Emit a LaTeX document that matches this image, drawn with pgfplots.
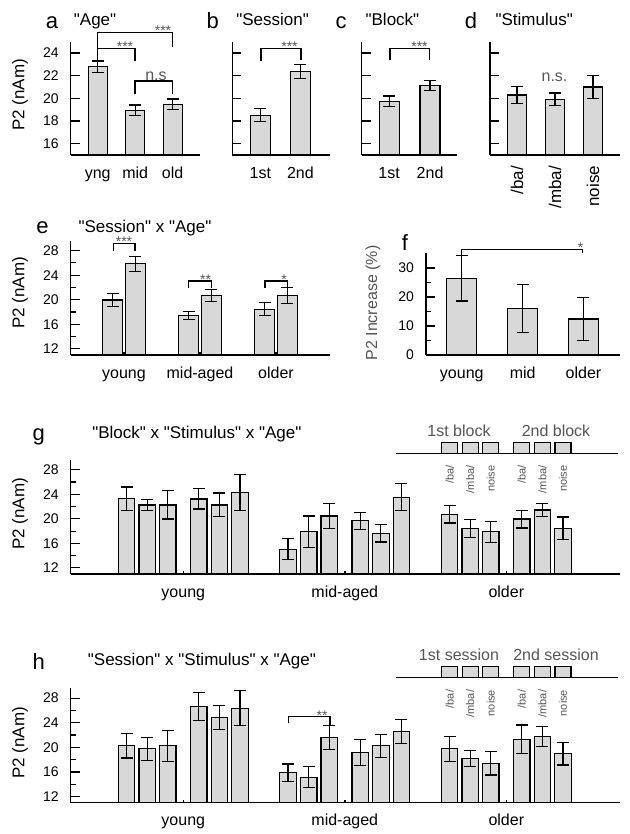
\documentclass[border=0pt]{standalone}
\usepackage{pgfplots}
\pgfplotsset{compat=1.18}
\usepackage{pgfplotstable}
\usepackage{fontspec}
\setmainfont{Liberation Sans}[Ligatures=TeXOff]
\definecolor{barfill}{RGB}{216,216,216}
\definecolor{anno}{RGB}{85,85,85}
\newcommand{\fs}[1]{\fontsize{#1}{#1}\selectfont}

\pgfplotstableread{
x y e
0 22.8 0.5
1 18.95 0.47
2 19.47 0.47
}\tabA
\pgfplotstableread{
x y e
0 18.5 0.57
1 22.38 0.63
}\tabB
\pgfplotstableread{
x y e
0 19.73 0.47
1 21.15 0.43
}\tabC
\pgfplotstableread{
x y e
0 20.29 0.77
1 19.91 0.56
2 21.0 1.03
}\tabD
\pgfplotstableread{
x y e
-0.148 19.95 1.1
0.148 25.84 1.2
0.852 17.42 0.6
1.148 20.68 0.95
1.852 18.45 1.05
2.148 20.68 1.35
}\tabE
\pgfplotstableread{
x y e
0 26.4 7.8
1 16.1 8.3
2 12.4 7.5
}\tabF
\pgfplotstableread{
x y e
-0.351 23.3 1.9
-0.2235 22.27 0.9
-0.096 22.27 2.3
0.096 23.25 1.65
0.2235 22.27 1.95
0.351 24.28 2.9
0.649 15.06 1.75
0.7765 17.9 2.55
0.904 20.46 2.0
1.096 19.7 1.4
1.2235 17.63 1.4
1.351 23.53 2.2
1.649 20.73 1.4
1.7765 18.44 1.45
1.904 17.9 1.7
2.096 19.97 1.45
2.2235 21.45 1.05
2.351 18.44 1.85
}\tabG
\pgfplotstableread{
x y e
-0.351 20.24 1.97
-0.2235 19.75 1.9
-0.096 20.24 2.5
0.096 26.64 2.3
0.2235 24.85 2.0
0.351 26.37 2.85
0.649 15.9 1.4
0.7765 15.15 1.7
0.904 21.6 2.0
1.096 19.21 2.1
1.2235 20.24 1.9
1.351 22.57 1.9
1.649 19.75 2.0
1.7765 18.24 1.3
1.904 17.42 1.9
2.096 21.33 2.3
2.2235 21.75 1.6
2.351 18.94 1.8
}\tabH

\pgfplotsset{
  panel/.style={
    scale only axis, anchor=south west,
    axis lines=left,
    axis line style={line width=1.2pt,-},
    tick style={black, line width=1.2pt},
    tick align=inside,
    major tick length=9pt, minor tick length=5pt,
    /pgf/number format/assume math mode=true,
    yticklabel style={font=\fs{14}, xshift=-8.5pt},
    xticklabel style={font=\fs{16}, text height=12pt, text depth=3.5pt, yshift=-7.5pt},
    xtick style={draw=none},
  },
  bars/.style={ybar, bar width=#1, fill=barfill, draw=black, line width=1.2pt,
    error bars/y dir=both, error bars/y explicit,
    error bars/error bar style={line width=1.2pt, black},
    error bars/error mark options={rotate=90, mark size=6pt, line width=1.2pt, black}},
}

\begin{document}
\begin{tikzpicture}
\useasboundingbox (0,0) rectangle (629pt,-834pt);

% ---------- a ----------
\begin{axis}[panel, at={(70.7pt,-155pt)}, width=129.3pt, height=113.3pt,
  xmin=-0.72, xmax=2.73, ymin=15, ymax=25,
  ytick={16,18,20,22,24}, xtick={0,1,2}, xticklabels={yng,mid,old}]
\addplot[bars=19pt] table[x=x,y=y,y error=e] {\tabA};
\end{axis}
% ---------- b ----------
\begin{axis}[panel, at={(232.3pt,-155pt)}, width=97.7pt, height=113.3pt,
  xmin=-0.7, xmax=1.74, ymin=15, ymax=25,
  ytick={16,18,20,22,24}, yticklabels={}, xtick={0,1}, xticklabels={1st,2nd}]
\addplot[bars=20pt] table[x=x,y=y,y error=e] {\tabB};
\end{axis}
% ---------- c ----------
\begin{axis}[panel, at={(361.7pt,-155pt)}, width=95pt, height=113.3pt,
  xmin=-0.67, xmax=1.65, ymin=15, ymax=25,
  ytick={16,18,20,22,24}, yticklabels={}, xtick={0,1}, xticklabels={1st,2nd}]
\addplot[bars=20pt] table[x=x,y=y,y error=e] {\tabC};
\end{axis}
% ---------- d ----------
\begin{axis}[panel, at={(490pt,-155pt)}, width=130pt, height=113.3pt,
  xmin=-0.71, xmax=2.71, ymin=15, ymax=25,
  ytick={16,18,20,22,24}, yticklabels={}, xtick={0,1,2}, xticklabels={/ba/,/mba/,noise},
  xticklabel style={font=\fs{17}, text height=, text depth=, yshift=0pt, rotate=90, anchor=east}]
\addplot[bars=19.3pt] table[x=x,y=y,y error=e] {\tabD};
\end{axis}
% ---------- e ----------
\begin{axis}[panel, at={(70.7pt,-355pt)}, width=259.3pt, height=114.3pt,
  xmin=-0.701, xmax=2.711, ymin=11, ymax=29.6,
  ytick={12,16,20,24,28}, minor ytick={14,18,22,26},
  xtick={0,1,2}, xticklabels={young,mid-aged,older}]
\addplot[bars=20pt] table[x=x,y=y,y error=e] {\tabE};
\end{axis}
% ---------- f ----------
\begin{axis}[panel, at={(426pt,-355pt)}, width=194pt, height=102.3pt,
  xmin=-0.588, xmax=2.6, ymin=0, ymax=35.3,
  ytick={0,10,20,30}, minor ytick={5,15,25},
  xtick={0,1,2}, xticklabels={young,mid,older}]
\addplot[bars=30pt] table[x=x,y=y,y error=e] {\tabF};
\end{axis}
% ---------- g ----------
\begin{axis}[panel, at={(70.7pt,-574pt)}, width=549.3pt, height=114pt,
  xmin=-0.697, xmax=2.704, ymin=11, ymax=29.6,
  ytick={12,16,20,24,28}, minor ytick={14,18,22,26},
  xtick={0,1,2}, xticklabels={young,mid-aged,older}]
\addplot[bars=16.5pt] table[x=x,y=y,y error=e] {\tabG};
\end{axis}
% ---------- h ----------
\begin{axis}[panel, at={(70.7pt,-802.7pt)}, width=549.3pt, height=114.4pt,
  xmin=-0.697, xmax=2.704, ymin=11, ymax=29.6,
  ytick={12,16,20,24,28}, minor ytick={14,18,22,26},
  xtick={0,1,2}, xticklabels={young,mid-aged,older}]
\addplot[bars=16.5pt] table[x=x,y=y,y error=e] {\tabH};
\end{axis}

% ---------- annotations ----------
\begin{scope}[line width=1.2pt]
% y labels
\node[rotate=90, font=\fs{17}] at (20pt,-95pt) {P2 (nAm)};
\node[rotate=90, font=\fs{17}] at (20pt,-293pt) {P2 (nAm)};
\node[rotate=90, font=\fs{17}] at (20pt,-514pt) {P2 (nAm)};
\node[rotate=90, font=\fs{17}] at (20pt,-743pt) {P2 (nAm)};
\node[rotate=90, font=\fs{16}, text=anno] at (373pt,-303pt) {P2 Increase (\%)};
% panel letters
\node[font=\fs{22}, anchor=base] at (52pt,-28.3pt) {a};
\node[font=\fs{22}, anchor=base] at (212.8pt,-28.3pt) {b};
\node[font=\fs{22}, anchor=base] at (341pt,-28.3pt) {c};
\node[font=\fs{22}, anchor=base] at (471pt,-28.3pt) {d};
\node[font=\fs{22}, anchor=base] at (42.5pt,-233.3pt) {e};
\node[font=\fs{22}, anchor=base] at (405pt,-250.7pt) {f};
\node[font=\fs{22}, anchor=base] at (38.8pt,-440pt) {g};
\node[font=\fs{22}, anchor=base] at (38.8pt,-669pt) {h};
% titles
\node[font=\fs{17}, anchor=base west, inner sep=0] at (73.3pt,-26pt) {"Age"};
\node[font=\fs{17}, anchor=base west, inner sep=0] at (235.7pt,-26pt) {"Session"};
\node[font=\fs{17}, anchor=base west, inner sep=0] at (365pt,-26pt) {"Block"};
\node[font=\fs{17}, anchor=base west, inner sep=0] at (495pt,-26pt) {"Stimulus"};
\node[font=\fs{17}, anchor=base west, inner sep=0] at (78pt,-232.3pt) {"Session" x "Age"};
\node[font=\fs{17}, anchor=base west, inner sep=0] at (91.7pt,-438.3pt) {"Block" x "Stimulus" x "Age"};
\node[font=\fs{17}, anchor=base west, inner sep=0] at (87.3pt,-665.7pt) {"Session" x "Stimulus" x "Age"};
% a brackets
\draw (97.3pt,-60pt) -- (97.3pt,-48.3pt) -- (135pt,-48.3pt) -- (135pt,-60.7pt);
\draw (97.3pt,-48.3pt) -- (97.3pt,-32.3pt) -- (172.7pt,-32.3pt) -- (172.7pt,-46.7pt);
\draw (135pt,-94.3pt) -- (135pt,-81pt) -- (172.7pt,-81pt) -- (172.7pt,-94.3pt);
\node[font=\fs{14}, text=anno, anchor=base, inner sep=0] at (125pt,-51.8pt) {***};
\node[font=\fs{14}, text=anno, anchor=base, inner sep=0] at (163pt,-35.8pt) {***};
\node[font=\fs{16}, text=anno, anchor=base, inner sep=0] at (156pt,-81pt) {n.s};
% b, c brackets
\draw (261pt,-60.7pt) -- (261pt,-48.3pt) -- (301pt,-48.3pt) -- (301pt,-60pt);
\node[font=\fs{14}, text=anno, anchor=base, inner sep=0] at (289.5pt,-51.8pt) {***};
\draw (390pt,-60pt) -- (390pt,-48.3pt) -- (429.3pt,-48.3pt) -- (429.3pt,-60pt);
\node[font=\fs{14}, text=anno, anchor=base, inner sep=0] at (419.5pt,-51.8pt) {***};
\node[font=\fs{16}, text=anno, anchor=base, inner sep=0] at (554.5pt,-81.7pt) {n.s.};
% e brackets
\draw (113.3pt,-250.7pt) -- (113.3pt,-243.3pt) -- (135pt,-243.3pt) -- (135pt,-250.7pt);
\node[font=\fs{14}, text=anno, anchor=base, inner sep=0] at (124pt,-246.8pt) {***};
\draw (188.3pt,-288.3pt) -- (188.3pt,-281pt) -- (211.7pt,-281pt) -- (211.7pt,-288.3pt);
\node[font=\fs{14}, text=anno, anchor=base, inner sep=0] at (205.5pt,-284.5pt) {**};
\draw (265pt,-288.3pt) -- (265pt,-281pt) -- (287.3pt,-281pt) -- (287.3pt,-288.3pt);
\node[font=\fs{14}, text=anno, anchor=base, inner sep=0] at (284pt,-284.5pt) {*};
% f bracket
\draw (461.7pt,-256.7pt) -- (461.7pt,-249.3pt) -- (582.7pt,-249.3pt) -- (582.7pt,-253.3pt);
\node[font=\fs{14}, text=anno, anchor=base, inner sep=0] at (580.5pt,-252.8pt) {*};
% h bracket
\draw (288.3pt,-723.3pt) -- (288.3pt,-716.7pt) -- (330pt,-716.7pt) -- (330pt,-725pt);
\node[font=\fs{14}, text=anno, anchor=base, inner sep=0] at (322pt,-720.2pt) {**};
% small x ticks at group centres
\foreach \xx in {124,200,276} { \draw (\xx pt,-355pt) -- ++(0,3pt); }
\foreach \yy in {574,802.7} { \foreach \xx in {183.3,345,506.3} { \draw (\xx pt,-\yy pt) -- ++(0,3pt); } }
% legends g and h
\foreach \yb/\txt/\lab/\labtwo in {453.3/465/{1st block}/{2nd block}, 677.3/689.3/{1st session}/{2nd session}} {
  \draw (396pt,-\yb pt) -- (618pt,-\yb pt);
  \foreach \xc/\nm in {449.6/{/ba/},470.2/{/mba/},490.8/{noise},521.8/{/ba/},542.4/{/mba/},563/{noise}} {
    \draw[fill=barfill] (\xc pt-8pt,-\yb pt) rectangle (\xc pt+8pt,-\yb pt+10.6pt);
    \node[rotate=90, anchor=east, font=\fs{11}, text=anno, inner sep=0] at (\xc pt,-\txt pt) {\nm};
  }
  \node[font=\fs{16}, text=anno, anchor=base, inner sep=0] at (459pt,-\yb pt+17pt) {\lab};
  \node[font=\fs{16}, text=anno, anchor=base, inner sep=0] at (556pt,-\yb pt+17pt) {\labtwo};
}
\end{scope}
\end{tikzpicture}
\end{document}
